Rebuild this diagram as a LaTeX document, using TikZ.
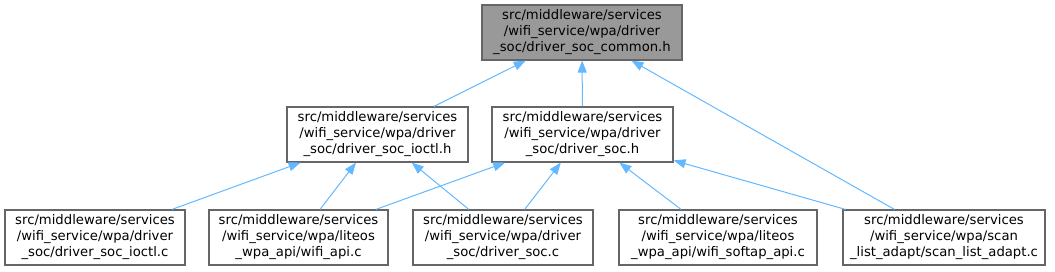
\documentclass[tikz,border=0pt]{standalone}
\usepackage{fontspec}
\setmainfont{DejaVu Sans}
\usetikzlibrary{arrows.meta}
\definecolor{edgeblue}{HTML}{63B8FF}
\definecolor{boxborder}{HTML}{666666}
\definecolor{topfill}{HTML}{999999}
\tikzset{
  filebox/.style={draw=boxborder, line width=1.1pt, fill=white, rectangle, align=center,
    inner sep=0pt, minimum height=55pt, font=\fontsize{13.2}{16}\selectfont},
  dep/.style={draw=edgeblue, line width=1pt, -{Triangle[length=12pt,width=9pt]}}
}
\begin{document}
\begin{tikzpicture}[x=1pt,y=-1pt]
\useasboundingbox (0,0) rectangle (1055,271);
\node[filebox, fill=topfill, minimum width=200pt] (top) at (582,32.5)
  {src/middleware/services\\/wifi\_service/wpa/driver\\\_soc/driver\_soc\_common.h};
\node[filebox, minimum width=181pt] (ioctlh) at (377.5,134.5)
  {src/middleware/services\\/wifi\_service/wpa/driver\\\_soc/driver\_soc\_ioctl.h};
\node[filebox, minimum width=181pt] (soch) at (582.5,134.5)
  {src/middleware/services\\/wifi\_service/wpa/driver\\\_soc/driver\_soc.h};
\node[filebox, minimum width=180pt] (ioctlc) at (95,237.5)
  {src/middleware/services\\/wifi\_service/wpa/driver\\\_soc/driver\_soc\_ioctl.c};
\node[filebox, minimum width=179pt] (wifiapi) at (298.5,237.5)
  {src/middleware/services\\/wifi\_service/wpa/liteos\\\_wpa\_api/wifi\_api.c};
\node[filebox, minimum width=180pt] (socc) at (503,237.5)
  {src/middleware/services\\/wifi\_service/wpa/driver\\\_soc/driver\_soc.c};
\node[filebox, minimum width=198pt] (softap) at (718,237.5)
  {src/middleware/services\\/wifi\_service/wpa/liteos\\\_wpa\_api/wifi\_softap\_api.c};
\node[filebox, minimum width=202pt] (scan) at (944,237.5)
  {src/middleware/services\\/wifi\_service/wpa/scan\\\_list\_adapt/scan\_list\_adapt.c};
\draw[dep] (ioctlh) -- (top);
\draw[dep] (soch) -- (top);
\draw[dep] (scan) -- (top);
\draw[dep] (ioctlc) -- (ioctlh);
\draw[dep] (wifiapi) -- (ioctlh);
\draw[dep] (socc) -- (ioctlh);
\draw[dep] (wifiapi) -- (soch);
\draw[dep] (socc) -- (soch);
\draw[dep] (softap) -- (soch);
\draw[dep] (scan) -- (soch);
\end{tikzpicture}
\end{document}
